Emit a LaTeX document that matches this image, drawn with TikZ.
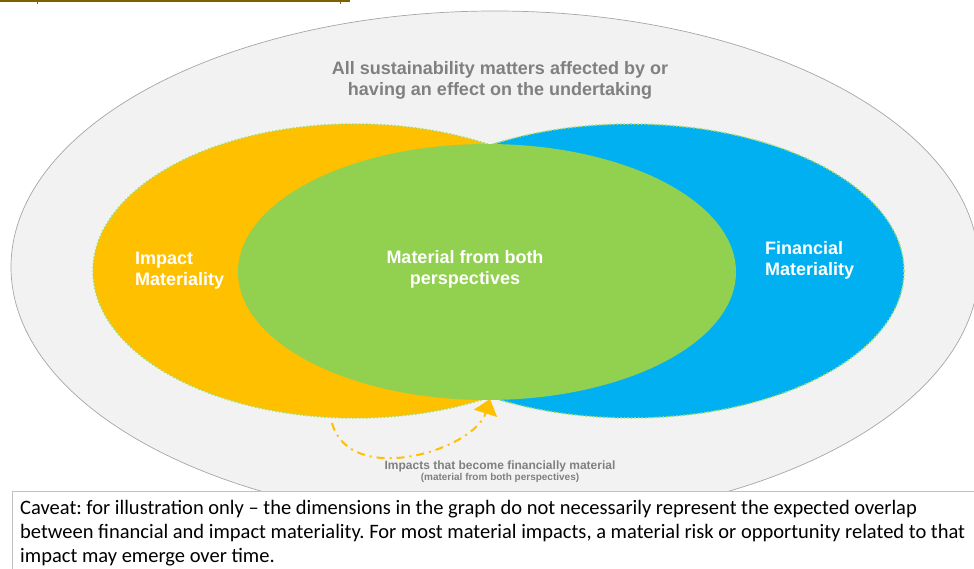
\documentclass[tikz,border=0pt]{standalone}
\usepackage{fontspec}
\setmainfont{Liberation Sans}
\newfontfamily\captionfont[Ligatures=TeX]{Carlito}
\usetikzlibrary{arrows.meta,positioning}

\definecolor{matgrey}{HTML}{F2F2F2}
\definecolor{matline}{HTML}{A6A6A6}
\definecolor{mattext}{HTML}{808080}
\definecolor{impactyellow}{HTML}{FFC000}
\definecolor{financeblue}{HTML}{00B0F0}
\definecolor{bothgreen}{HTML}{92D050}
\definecolor{dotgreen}{HTML}{A6DC64}
\definecolor{toprule}{HTML}{7F6000}

\tikzset{
  bigtext/.style={font=\bfseries\fontsize{18}{21}\selectfont, inner sep=0pt},
  whitetext/.style={bigtext, text=white, align=left},
  greytext/.style={bigtext, text=mattext, align=center},
  dotborder/.style={draw=dotgreen, line width=1.5pt, dotted},
}

\begin{document}
\frenchspacing
\begin{tikzpicture}[x=1pt, y=-1pt]
  \useasboundingbox (0,0) rectangle (974,569);

  % cropped underline at the top
  \draw [toprule, line width=1.6pt] (0,1) -- (350,1);
  \draw [toprule, line width=1pt] (37,0) -- (37,4);
  \draw [toprule, line width=1pt] (340,0) -- (340,4);

  % all matters
  \draw [fill=matgrey, draw=matline, line width=0.7pt] (495,267) ellipse [x radius=484, y radius=256];

  % impact and financial materiality
  \fill [impactyellow] (355,271) ellipse [x radius=262, y radius=147];
  \fill [financeblue] (631,271) ellipse [x radius=273, y radius=147];
  \draw [dotborder] (355,271) ellipse [x radius=262, y radius=147];
  \draw [dotborder] (631,271) ellipse [x radius=273, y radius=147];

  % overlap
  \fill [bothgreen] (487,272) ellipse [x radius=249, y radius=128];

  \node (allmatters) [greytext] at (500,80) {All sustainability matters affected by or\\having an effect on the undertaking};
  \node (impact) [whitetext, anchor=west] at (135,271) {Impact\\Materiality};
  \node (both) [whitetext, align=center] at (465,269) {Material from both\\perspectives};
  \node (financial) [whitetext, anchor=west] at (765,260) {Financial\\Materiality};

  % impacts that become financially material
  \coordinate (arrowstart) at (332,423);
  \coordinate (arrowend) at (490,399);
  \draw [impactyellow, line width=2pt, dash pattern=on 8pt off 5pt on 2pt off 5pt,
         -{Triangle[length=15pt, width=24pt, sep=0pt]}]
    (arrowstart) .. controls (350,488) and (474,450) .. (arrowend);

  \node (becomelabel) [font=\bfseries\fontsize{12}{14}\selectfont, text=mattext, inner sep=0pt] at (500,466) {Impacts that become financially material};
  \node (bothlabel) [font=\bfseries\fontsize{10}{12}\selectfont, text=mattext, inner sep=0pt, below=1.5pt of becomelabel] {(material from both perspectives)};

  % caveat
  \draw [fill=white, draw=matline!70, line width=0.7pt] (12,491) rectangle (990,600);
  \node (caveat) [anchor=north west, inner sep=0pt, align=left, font=\captionfont\fontsize{20.5}{24}\selectfont] at (20,500)
    {Caveat: for illustration only – the dimensions in the graph do not necessarily represent the expected overlap\\
     between financial and impact materiality. For most material impacts, a material risk or opportunity related to that\\
     impact may emerge over time.};
\end{tikzpicture}
\end{document}
